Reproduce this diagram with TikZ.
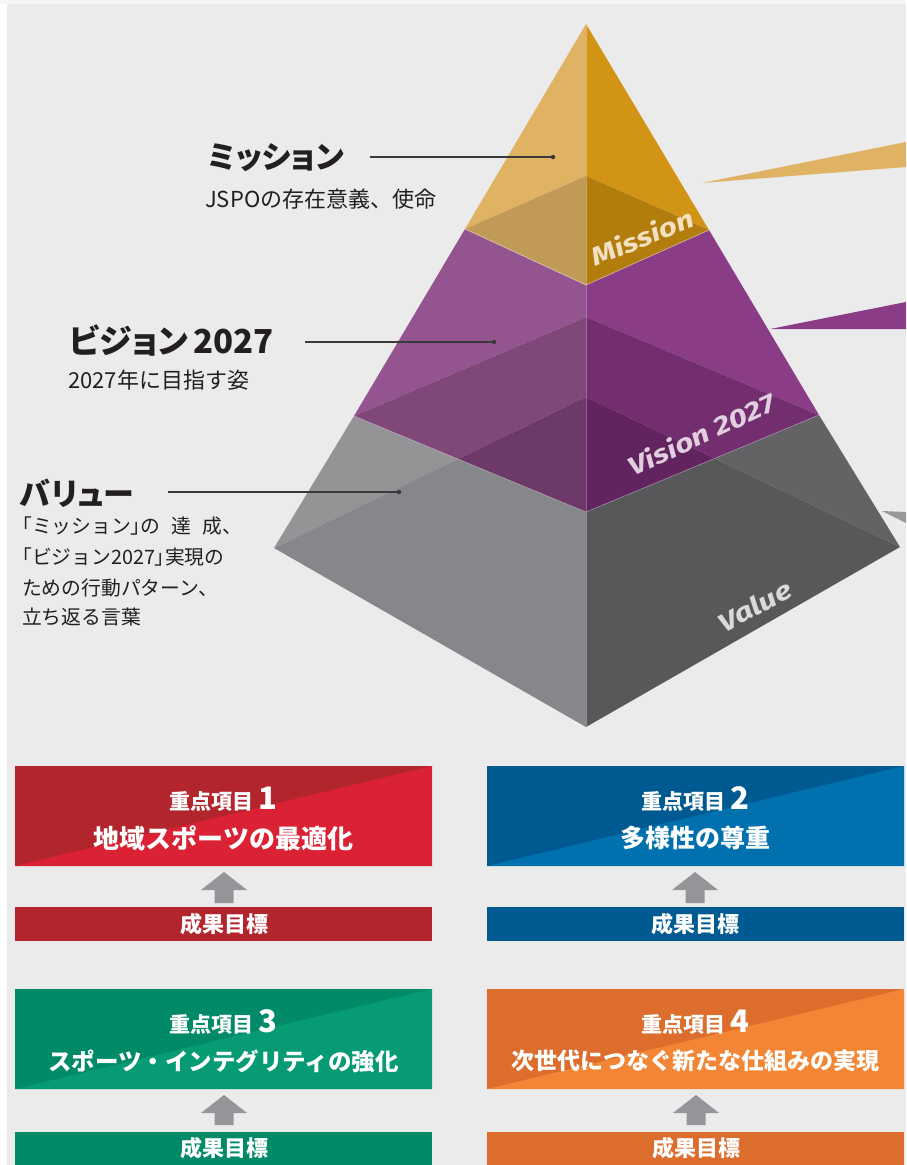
\documentclass[tikz,border=0pt]{standalone}
\usepackage{fontspec}
\newfontfamily\jp{Noto Sans CJK JP}
\newfontfamily\jpp[RawFeature=+palt]{Noto Sans CJK JP}
\newfontfamily\lab[FakeStretch=1.25]{Fira Sans}
\definecolor{bg}{HTML}{EBEBEB}
\definecolor{bgtop}{HTML}{F6F6F6}
\definecolor{ink}{HTML}{231F20}
\definecolor{leader}{HTML}{3A3A3A}
% gold
\definecolor{oLL}{HTML}{E0B263}
\definecolor{oRL}{HTML}{D29414}
\definecolor{oLD}{HTML}{C29A58}
\definecolor{oRD}{HTML}{B27D0D}
% purple
\definecolor{pLL}{HTML}{93548F}
\definecolor{pRL}{HTML}{8A3C86}
\definecolor{pLM}{HTML}{804779}
\definecolor{pRM}{HTML}{722E6F}
\definecolor{pLD}{HTML}{6D3969}
\definecolor{pRD}{HTML}{61245E}
% gray
\definecolor{gLL}{HTML}{949497}
\definecolor{gLD}{HTML}{86878A}
\definecolor{gRL}{HTML}{636365}
\definecolor{gRD}{HTML}{58585A}
\definecolor{gW}{HTML}{99999C}
% boxes
\definecolor{redD}{HTML}{B2252D}
\definecolor{redL}{HTML}{DA2234}
\definecolor{bluD}{HTML}{005A92}
\definecolor{bluL}{HTML}{0070AF}
\definecolor{grnD}{HTML}{008A68}
\definecolor{grnL}{HTML}{079B75}
\definecolor{ornD}{HTML}{DC6D2D}
\definecolor{ornL}{HTML}{F38634}
\definecolor{arr}{HTML}{949599}
\tikzset{
  title/.style={anchor=west,inner sep=0pt,text=ink,font=\jpp\bfseries\fontsize{31}{33}\selectfont},
  sub/.style={anchor=west,inner sep=0pt,text=ink,font=\jp\fontsize{22}{24}\selectfont},
  desc/.style={anchor=west,inner sep=0pt,text=ink,font=\jp\fontsize{19.8}{24}\selectfont},
  leaderline/.style={draw=leader,line width=1.1pt},
  leaderdot/.style={circle,fill=leader,inner sep=0pt,minimum size=4.5pt},
  pyrlab/.style={inner sep=0pt,font=\lab\bfseries\itshape\fontsize{25.5}{28}\selectfont},
  boxhead/.style={inner sep=0pt,text=white,font=\jp\bfseries\fontsize{21}{24}\selectfont},
  boxtitle/.style={inner sep=0pt,text=white,font=\jp\bfseries\fontsize{25}{28}\selectfont},
  bartext/.style={inner sep=0pt,text=white,font=\jp\bfseries\fontsize{22}{24}\selectfont},
  uparrow/.style={fill=arr},
  edge/.style={draw=white,draw opacity=0.3,line width=0.7pt}
}
\newcommand{\upar}[3]{% center x, tip y, bottom y
  \fill[uparrow] (#1,#2) -- (#1+23,#2+18) -- (#1+9.5,#2+18) -- (#1+9.5,#3)
     -- (#1-9.5,#3) -- (#1-9.5,#2+18) -- (#1-23,#2+18) -- cycle;}
\newcommand{\focusbox}[9]{% x1,x2,y1,y2,dark,light,num,title,name
  \fill[#5] (#1,#3) rectangle (#2,#4);
  \fill[#6] (#1,#4) -- (#2,#3) -- (#2,#4) -- cycle;
  \node[boxhead] (#9h) at ({(#1+#2)/2},#3+33) {重点項目\hspace{5pt}{\fontsize{31}{31}\selectfont #7}};
  \node[boxtitle] (#9t) at ({(#1+#2)/2},#3+72) {#8};}
\begin{document}
\begin{tikzpicture}[x=1pt,y=-1pt]
\useasboundingbox (0,0) rectangle (906,1165);
\fill[white] (0,0) rectangle (906,1165);
\fill[bgtop] (0,0) rectangle (906,4);
\fill[bg] (7,4) rectangle (906,1165);

% pyramid points
\coordinate (A) at (586,24);
\coordinate (L1) at (465,229); \coordinate (F1) at (586,285);
\coordinate (R1) at (709,230); \coordinate (B1) at (586,176);
\coordinate (L2) at (354,416); \coordinate (F2) at (586,512);
\coordinate (R2) at (819,415); \coordinate (B2) at (586,317);
\coordinate (L3) at (274,548); \coordinate (F3) at (586,727);
\coordinate (R3) at (900,547); \coordinate (B3) at (586,397);
\coordinate (P3L) at (intersection of L3--B3 and L2--F2);
\coordinate (P3R) at (intersection of R3--B3 and R2--F2);

% pointer wedges on the right
\fill[oLL] (702,183) -- (906,142) -- (906,167) -- cycle;
\fill[pRL] (770,329) -- (906,302) -- (906,329) -- cycle;
\fill[gW] (882,511) -- (906,512) -- (906,523) -- cycle;

% gray layer (Value)
\fill[gLL] (L2) -- (L3) -- (P3L) -- cycle;
\fill[gLD] (P3L) -- (L3) -- (F3) -- (F2) -- cycle;
\fill[gRL] (R2) -- (R3) -- (P3R) -- cycle;
\fill[gRD] (P3R) -- (R3) -- (F3) -- (F2) -- cycle;
% purple layer (Vision)
\fill[pLL] (L1) -- (L2) -- (B2) -- (F1) -- cycle;
\fill[pRL] (F1) -- (B2) -- (R2) -- (R1) -- cycle;
\fill[pLM] (L2) -- (P3L) -- (B3) -- (B2) -- cycle;
\fill[pRM] (R2) -- (P3R) -- (B3) -- (B2) -- cycle;
\fill[pLD] (P3L) -- (F2) -- (B3) -- cycle;
\fill[pRD] (P3R) -- (F2) -- (B3) -- cycle;
% gold layer (Mission)
\fill[oLL] (A) -- (L1) -- (B1) -- cycle;
\fill[oRL] (A) -- (B1) -- (R1) -- cycle;
\fill[oLD] (L1) -- (F1) -- (B1) -- cycle;
\fill[oRD] (R1) -- (F1) -- (B1) -- cycle;
% light edges
\draw[edge] (A) -- (F3);
\draw[draw=white,draw opacity=0.35,line width=0.9pt] (L1) -- (F1) -- (R1);
\draw[edge] (L2) -- (F2) -- (R2);

% pyramid labels
\node[pyrlab,text=oLL!40!white,rotate=22] (mis) at (642,237) {Mission};
\node[pyrlab,text=pLL!28!white,rotate=25] (vis) at (701,434) {Vision 2027};
\node[pyrlab,text=gLL!35!white,rotate=28] (val) at (755,606) {Value};

% left labels
\node[title] (t1) at (208,158) {ミッション};
\node[sub] (s1) at (205,199) {JSPOの存在意義、使命};
\node[title,font=\jpp\bfseries\fontsize{33}{35}\selectfont] (t2) at (69,340) {ビジョン\hspace{5pt}2027};
\node[sub] (s2) at (68,380) {2027年に目指す姿};
\node[title] (t3) at (20,493) {バリュー};
\node[desc] (d1) at (22,526) {\makebox[220pt][l]{{\jpp 「}ミッション{\jpp 」}の\hfill 達\hfill 成、}};
\node[desc] (d2) at (22,557) {{\jpp 「}ビジョン2027{\jpp 」}実現の};
\node[desc] (d3) at (22,588) {ための行動パターン、};
\node[desc] (d4) at (22,617) {立ち返る言葉};

% leader lines
\coordinate (m0) at (370,157); \node[leaderdot] (m1) at (553,157) {};
\coordinate (v0) at (305,342); \node[leaderdot] (v1) at (494,342) {};
\coordinate (u0) at (168,492); \node[leaderdot] (u1) at (399,492) {};
\draw[leaderline] (m0) -- (m1.center);
\draw[leaderline] (v0) -- (v1.center);
\draw[leaderline] (u0) -- (u1.center);

% focus boxes
\focusbox{15}{432}{766}{866}{redD}{redL}{1}{\fontsize{26}{28}\selectfont 地域スポーツの最適化}{k1}
\focusbox{487}{904}{766}{866}{bluD}{bluL}{2}{多様性の尊重}{k2}
\focusbox{15}{432}{989}{1089}{grnD}{grnL}{3}{\fontsize{23.5}{26}\selectfont スポーツ・インテグリティの強化}{k3}
\focusbox{487}{904}{989}{1089}{ornD}{ornL}{4}{\fontsize{23}{26}\selectfont 次世代につなぐ新たな仕組みの実現}{k4}

% arrows
\upar{224}{872}{903}
\upar{695}{872}{903}
\upar{224}{1095}{1125}
\upar{696}{1095}{1125}

% result bars
\fill[redD] (15,907) rectangle (432,941);
\node[bartext] (r1) at (224,924) {成果目標};
\fill[bluD] (487,907) rectangle (904,941);
\node[bartext] (r2) at (695,924) {成果目標};
\fill[grnD] (15,1132) rectangle (432,1165);
\node[bartext] (r3) at (224,1148) {成果目標};
\fill[ornD] (487,1132) rectangle (904,1165);
\node[bartext] (r4) at (696,1148) {成果目標};
\end{tikzpicture}
\end{document}
